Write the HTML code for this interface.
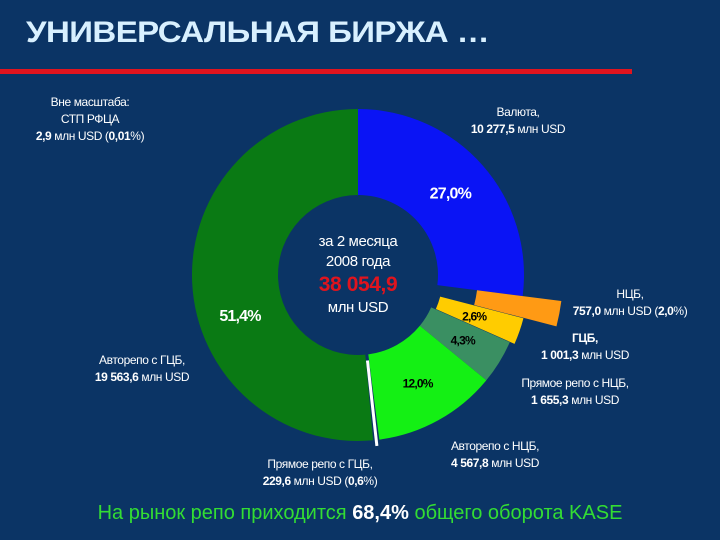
<!DOCTYPE html>
<html><head><meta charset="utf-8">
<style>
html,body{margin:0;padding:0;}
body{width:720px;height:540px;background:#0b3465;overflow:hidden;position:relative;font-family:"Liberation Sans","Noto Sans CJK SC",sans-serif;}
.t{position:absolute;color:#fff;font-size:12px;letter-spacing:-0.4px;text-align:center;line-height:17px;white-space:nowrap;}
b{font-weight:bold;}
</style></head><body>
<div style="position:absolute;left:26px;top:16px;color:#d8f0ff;font-size:30px;font-weight:bold;letter-spacing:-0.5px;transform:scaleX(1.1);transform-origin:left top;">УНИВЕРСАЛЬНАЯ БИРЖА …</div>
<div style="position:absolute;left:0;top:69px;width:632px;height:5px;background:#e0141e;"></div>
<svg id="chart" width="720" height="540" style="position:absolute;left:0;top:0;"></svg>
<div class="t" style="left:20px;top:94px;width:140px;">Вне масштаба:<br>СТП РФЦА<br><b>2,9</b> млн USD (<b>0,01</b>%)</div>
<div class="t" style="left:448px;top:104px;width:140px;">Валюта,<br><b>10 277,5</b> млн USD</div>
<div class="t" style="left:555px;top:286px;width:150px;">НЦБ,<br><b>757,0</b> млн USD (<b>2,0</b>%)</div>
<div class="t" style="left:515px;top:330px;width:140px;"><b>ГЦБ,</b><br><b>1 001,3</b> млн USD</div>
<div class="t" style="left:495px;top:375px;width:160px;">Прямое репо с НЦБ,<br><b>1 655,3</b> млн USD</div>
<div class="t" style="left:425px;top:438px;width:140px;">Авторепо с НЦБ,<br><b>4 567,8</b> млн USD</div>
<div class="t" style="left:240px;top:456px;width:160px;">Прямое репо с ГЦБ,<br><b>229,6</b> млн USD (<b>0,6</b>%)</div>
<div class="t" style="left:72px;top:352px;width:140px;">Авторепо с ГЦБ,<br><b>19 563,6</b> млн USD</div>
<div class="t" style="left:298px;top:232px;width:120px;font-size:15px;line-height:20px;">за 2 месяца<br>2008 года<br><b style="color:#e0141e;font-size:21px;line-height:26px;">38 054,9</b><br>млн USD</div>
<div style="position:absolute;left:0;top:502px;width:720px;text-align:center;color:#33dd33;font-size:20px;">На рынок репо приходится <b style="color:#fff;">68,4%</b> общего оборота KASE</div>
<script>
const categories=["Валюта","НЦБ","ГЦБ","Прямое репо с НЦБ","Авторепо с НЦБ","Прямое репо с ГЦБ","Авторепо с ГЦБ"];
const values=[27.0,2.0,2.6,4.3,12.0,0.6,51.4];
const pctLabels=["27,0%","","2,6%","4,3%","12,0%","","51,4%"];
const colors=["#0a14f5","#ff9a14","#ffcc00","#3a8f62","#14f014","#ffffff","#0a7a14"];
const cx=358,cy=275,R=166,r0=80;
const svg=document.getElementById('chart');
const NS='http://www.w3.org/2000/svg';
const total=values.reduce((a,b)=>a+b,0);
function ang(v){return v/total*2*Math.PI;}
function pt(a,rad){return [cx+rad*Math.sin(a),cy-rad*Math.cos(a)];}
let acc=0;
values.forEach((v,i)=>{
  const a0=ang(acc),a1=ang(acc+v);acc+=v;
  const mid=(a0+a1)/2;
  if(i===5){
    const l=document.createElementNS(NS,'line');
    const p=pt(mid,R-80),q=pt(mid,R+6);
    l.setAttribute('x1',p[0]);l.setAttribute('y1',p[1]);l.setAttribute('x2',q[0]);l.setAttribute('y2',q[1]);
    l.setAttribute('stroke',colors[i]);l.setAttribute('stroke-width',3);
    
    
    svg.appendChild(l);return;
  }
  let ri=r0,ro=R,dx=0,dy=0;
  if(i===1){ri=120;ro=205;}
  if(i===2){dx=Math.sin(mid)*5;dy=-Math.cos(mid)*5;}
  const p1=pt(a0,ro),p2=pt(a1,ro),p3=pt(a1,ri),p4=pt(a0,ri);
  const lg=(a1-a0)>Math.PI?1:0;
  const d=`M${p1[0]+dx},${p1[1]+dy}A${ro},${ro} 0 ${lg} 1 ${p2[0]+dx},${p2[1]+dy}L${p3[0]+dx},${p3[1]+dy}A${ri},${ri} 0 ${lg} 0 ${p4[0]+dx},${p4[1]+dy}Z`;
  const path=document.createElementNS(NS,'path');
  path.setAttribute('d',d);path.setAttribute('fill',colors[i]);
  
  
  svg.appendChild(path);
  if(pctLabels[i]){
    const lr=(ri+ro)/2;
    let p=pt(mid,lr);
    if(i===6)p=[240,316];
    const t=document.createElementNS(NS,'text');
    t.setAttribute('x',p[0]);t.setAttribute('y',p[1]+5);
    t.setAttribute('text-anchor','middle');
    t.setAttribute('font-family','Liberation Sans, sans-serif');
    t.setAttribute('font-size',i===0||i===6?16:12);
    t.setAttribute('font-weight','bold');
    t.setAttribute('letter-spacing','-0.8');
    t.setAttribute('fill',(i===0||i===6)?'#fff':'#000');
    t.textContent=pctLabels[i];
    
    
    svg.appendChild(t);
  }
});
</script>
</body></html>
